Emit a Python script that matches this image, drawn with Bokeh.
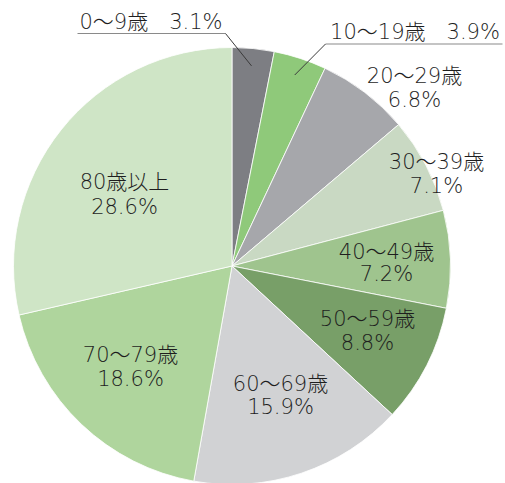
import math
from bokeh.plotting import figure
from bokeh.models import Range1d
from bokeh.core.properties import value
from bokeh.embed import file_html
from bokeh.resources import INLINE

# ---- data ----
categories = ["0～9歳", "10～19歳", "20～29歳", "30～39歳", "40～49歳",
              "50～59歳", "60～69歳", "70～79歳", "80歳以上"]
shares = [3.1, 3.9, 6.8, 7.1, 7.2, 8.8, 15.9, 18.6, 28.6]

# ---- styles / layout ----
colors = ["#7d7e83", "#8fc97a", "#a6a7ab", "#c9d9c3", "#9fc48e",
          "#789f68", "#d1d2d4", "#afd59d", "#cfe5c6"]
FONT = "DejaVu Sans Light, Noto Sans CJK JP Light"
TEXT_COLOR = "#1e1e1e"
FS = "21px"

W, H = 505, 483


def Y(sy):
    return H - sy


CX, CY, R = 231.5, 265.5, 218.5

# inside-label layout (screen px): centre x, line-1 y, line-2 y
inside_layout = {
    2: (414, 75, 99),
    3: (436, 161, 185),
    4: (386, 251, 273),
    5: (367, 318, 342),
    6: (280, 383, 406),
    7: (130, 354, 378),
    8: (124, 181, 206),
}
# outside labels: text centre x, text y, underline y, underline x0, x1, leader start x
outside_layout = {
    0: (150.5, 21, 33, 77, 225, 225),
    1: (414.5, 31, 43.5, 325, 502, 325),
}

p = figure(width=W, height=H, output_backend="svg", toolbar_location=None,
           x_range=Range1d(0, W), y_range=Range1d(0, H),
           x_axis_type=None, y_axis_type=None, min_border=0)
p.outline_line_color = None
p.grid.visible = False
p.background_fill_color = "white"

total = sum(shares)
starts, ends, mids = [], [], []
cum = 0.0
for v in shares:
    a0 = math.pi / 2 - 2 * math.pi * cum / total
    cum += v
    a1 = math.pi / 2 - 2 * math.pi * cum / total
    starts.append(a0)
    ends.append(a1)
    mids.append((a0 + a1) / 2)

p.wedge(x=[CX] * len(shares), y=[Y(CY)] * len(shares), radius=R,
        start_angle=starts, end_angle=ends, direction="clock",
        fill_color=colors, line_color="white", line_width=0.8)

# inside labels
xs, ys, txt = [], [], []
for i, (lx, l1, l2) in inside_layout.items():
    xs += [lx, lx]
    ys += [Y(l1), Y(l2)]
    txt += [categories[i], f"{shares[i]:.1f}%"]
p.text(x=xs, y=ys, text=txt, text_align="center", text_baseline="middle",
       text_font=value(FONT), text_font_size=FS, text_color=TEXT_COLOR)

# outside labels with underline and leader
for i, (tx, ty, uy, ux0, ux1, lsx) in outside_layout.items():
    p.text(x=[tx], y=[Y(ty)], text=[f"{categories[i]}\u3000{shares[i]:.1f}%"],
           text_align="center", text_baseline="middle",
           text_font=value(FONT), text_font_size=FS, text_color=TEXT_COLOR)
    p.line(x=[ux0, ux1], y=[Y(uy), Y(uy)], line_color="#8a8a8a", line_width=1.2)
    ex = CX + 0.92 * R * math.cos(mids[i])
    ey = Y(CY) + 0.92 * R * math.sin(mids[i])
    p.line(x=[lsx, ex], y=[Y(uy), ey], line_color="#3a3a3a", line_width=1)

open("out.html", "w").write(file_html(p, INLINE))
